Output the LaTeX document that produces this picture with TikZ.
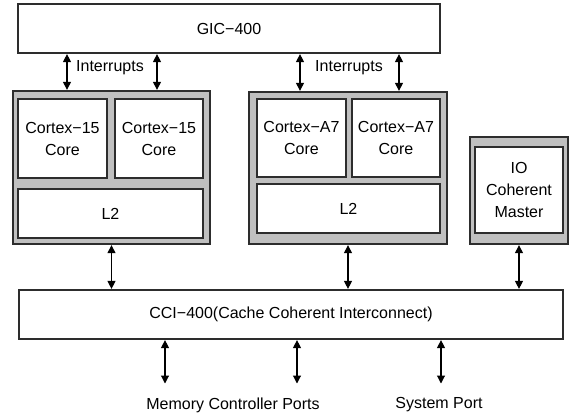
\documentclass[tikz,border=0pt]{standalone}
\usepackage{fontspec}
\setmainfont{Liberation Sans}
\usetikzlibrary{arrows.meta}
\definecolor{mygray}{RGB}{192,192,192}
\definecolor{myline}{RGB}{45,45,45}

\begin{document}
\begin{tikzpicture}
				[x=1pt,y=-1pt,
				every node/.style={font=\fontsize{16}{22}\selectfont,align=center,inner sep=0pt},
				cluster/.style={rectangle,draw=myline,line width=1.3pt,fill=mygray},
				unit/.style={rectangle,draw=myline,line width=1.2pt,fill=white},
				arr/.style={{Triangle[length=8pt,width=8pt]}-{Triangle[length=8pt,width=8pt]},line width=1.1pt,shorten <=0.5pt,shorten >=0.5pt}]
				\useasboundingbox (0,0) rectangle (574,418);
				\node[unit,minimum width=422pt,minimum height=49pt] (gic) at (229,28.5) {GIC−400};
				
				\node[cluster,minimum width=197pt,minimum height=153pt] (cl1) at (111.5,167.5) {};
				\node[unit,minimum width=89pt,minimum height=79pt] (c1) at (62.5,138.5) {Cortex−15\\Core};
				\node[unit,minimum width=88pt,minimum height=79pt] (c2) at (159,138.5) {Cortex−15\\Core};
				\node[unit,minimum width=185pt,minimum height=49pt] (l2a) at (110.5,213.5) {L2};
				
				\node[cluster,minimum width=198pt,minimum height=152pt] (cl2) at (348,168) {};
				\node[unit,minimum width=89pt,minimum height=78pt] (c3) at (301.5,138) {Cortex−A7\\Core};
				\node[unit,minimum width=88pt,minimum height=78pt] (c4) at (396,138) {Cortex−A7\\Core};
				\node[unit,minimum width=183pt,minimum height=49pt] (l2b) at (348.5,208.5) {L2};
				
				\node[cluster,minimum width=98pt,minimum height=107pt] (io) at (519,190.5) {};
				\node[unit,minimum width=88pt,minimum height=86pt] (iom) at (519,190) {IO\\Coherent\\Master};
				
				\node[unit,minimum width=544pt,minimum height=49pt] (cci) at (291,314.5) {CCI−400(Cache Coherent Interconnect)};
				
				\node (int1) at (110,68) {Interrupts};
				\node (int2) at (349,68) {Interrupts};
				\node (mem) at (233,405) {Memory Controller Ports};
				\node (sys) at (439,405) {System Port};
				
				\coordinate (m1) at (165,384);
				\coordinate (m2) at (297,384);
				\coordinate (s1) at (441,384);
				
				\foreach \x/\n in {67/cl1,157/cl1,300/cl2,399/cl2}
				\draw[arr] (\x,0 |- gic.south) -- (\x,0 |- \n.north);
				\foreach \n in {cl1,cl2,io}
				\draw[arr] (\n.south) -- (\n.south |- cci.north);
				\foreach \p in {m1,m2,s1}
				\draw[arr] (\p |- cci.south) -- (\p);
				\end{tikzpicture}
\end{document}
